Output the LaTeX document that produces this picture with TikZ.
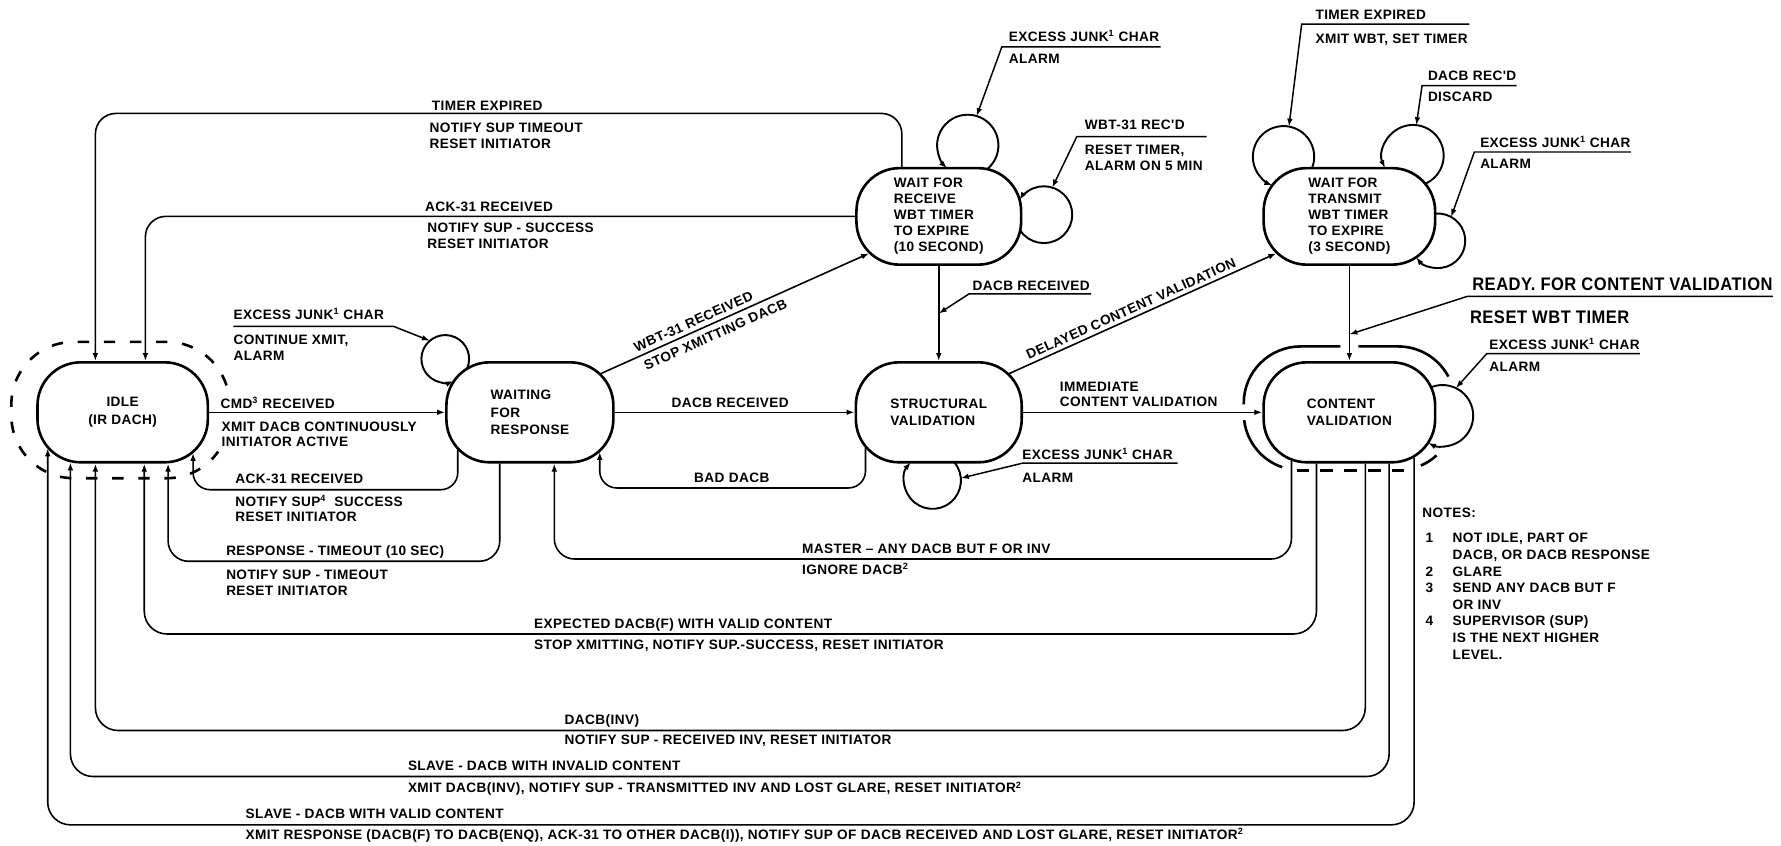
\documentclass[tikz,border=0pt]{standalone}
\usepackage{fontspec}
\usepackage{graphicx}
\setmainfont{Liberation Sans}
\newfontfamily\labelfamily{Liberation Sans}[LetterSpace=3]
\usetikzlibrary{arrows.meta,calc}
\newcommand\lblfont{\labelfamily\bfseries\fontsize{12}{13.5}\selectfont}
\newcommand\notefont{\labelfamily\bfseries\fontsize{12}{14.6}\selectfont}
\newcommand\bigfont{\labelfamily\bfseries\fontsize{16}{19}\selectfont}

\begin{document}
\begin{tikzpicture}[x=1pt, y=-1pt, font=\lblfont, >={Latex[length=7pt,width=5pt]},
  state/.style={draw, line width=2.3pt, rounded corners=38pt, fill=white,
    inner sep=0pt, minimum height=88pt, align=left},
  upperstate/.style={state, minimum height=85pt},
  conn/.style={line width=1.4pt, ->, rounded corners=18pt},
  lowconn/.style={conn, rounded corners=20pt},
  pointer/.style={line width=1.3pt, ->},
  selfloop/.style={line width=1.7pt, ->},
  ring/.style={line width=2.3pt},
  ev/.style={anchor=base west, inner sep=0pt},
  act/.style={anchor=north west, inner sep=0pt, align=left}]

\fill[white] (0,0) rectangle (1568,744);
\useasboundingbox (0,0) rectangle (1568,744);

% ---------- super-state outlines ----------
% dashed outline round IDLE, open on the right where CMD leaves
\draw[ring, dash pattern=on 10pt off 13pt] (199.4,339.3) arc[start angle=17.7, end angle=90, radius=55pt]
  -- (65,301) arc[start angle=90, end angle=180, radius=55pt]
  -- (10,366) arc[start angle=180, end angle=270, radius=55pt]
  -- (147,421) arc[start angle=270, end angle=325, radius=55pt];
% outline round CONTENT VALIDATION
\draw[ring] (1095,356) -- (1095,355) arc[start angle=180, end angle=90, radius=50pt] -- (1180,305);
\draw[ring] (1196,305) -- (1231,305) arc[start angle=90, end angle=28, radius=50pt];
\draw[ring] (1095.35,369.92) arc[start angle=186.8, end angle=251.2, radius=50pt];
\draw[ring, dash pattern=on 11pt off 10pt] (1141.5,414) -- (1240,414);
\draw[ring] (1250.9,409.9) arc[start angle=-66.6, end angle=-47.6, radius=50pt];

% ---------- states ----------
\node[state, minimum width=150pt, align=center] (idle) at (108,363) {IDLE\\[3pt](IR DACH)};
\node[state, minimum width=147pt] (wresp) at (466.5,363) {WAITING\\[1.5pt]FOR\\[1.5pt]RESPONSE};
\node[state, minimum width=146pt] (struct) at (826.5,363) {STRUCTURAL\\[1pt]VALIDATION};
\node[state, minimum width=151pt] (content) at (1188,363) {CONTENT\\[1pt]VALIDATION};
\node[upperstate, minimum width=145pt] (wrecv) at (826.5,190.5)
  {WAIT FOR\\[0.5pt]RECEIVE\\[0.5pt]WBT TIMER\\[0.5pt]TO EXPIRE\\[0.5pt](10 SECOND)};
\node[upperstate, minimum width=151pt] (wxmit) at (1188,190.5)
  {WAIT FOR\\[0.5pt]TRANSMIT\\[0.5pt]WBT TIMER\\[0.5pt]TO EXPIRE\\[0.5pt](3 SECOND)};

% ---------- self loops ----------
\coordinate (wl) at (392,316);
\draw[selfloop] ($(wl)+(-24.6:21pt)$) arc[start angle=-24.6, end angle=290.7, radius=21pt];
\coordinate (sl) at (821,423);
\draw[selfloop] ($(sl)+(39.8:25pt)$) arc[start angle=39.8, end angle=-219.8, radius=25pt];
\coordinate (rl1) at (852,128);
\draw[selfloop] ($(rl1)+(-50.55:27pt)$) arc[start angle=-50.55, end angle=227.8, radius=27pt];
\coordinate (rl2) at (919,189);
\draw[selfloop] ($(rl2)+(213.7:25pt)$) arc[start angle=213.7, end angle=508.85, radius=25pt];
\coordinate (xla) at (1130,138);
\draw[selfloop] ($(xla)+(-21.74:27pt)$) arc[start angle=-21.74, end angle=248.6, radius=27pt];
\coordinate (xlb) at (1244,137);
\draw[selfloop] ($(xlb)+(-65.9:27pt)$) arc[start angle=-65.9, end angle=204.04, radius=27pt];
\coordinate (xlc) at (1266,212);
\draw[selfloop] ($(xlc)+(95.98:24pt)$) arc[start angle=95.98, end angle=-143, radius=24pt];
\coordinate (cld) at (1270,366);
\draw[selfloop] ($(cld)+(111.9:27pt)$) arc[start angle=111.9, end angle=-118, radius=27pt];

% ---------- transitions ----------
% receive timer expired
\draw[conn] ([xshift=-32.5pt]wrecv.north) -- ++(0,-47) -| ([xshift=-24pt]idle.north);
\node[ev] (t1e) at (380,97) {TIMER EXPIRED};
\node[act] (t1a) at (378,108.5) {NOTIFY SUP TIMEOUT\\RESET INITIATOR};
% ack while waiting for wbt
\draw[conn] (wrecv.west) -| ([xshift=20pt]idle.north);
\node[ev] (t2e) at (374,186.5) {ACK-31 RECEIVED};
\node[act] (t2a) at (376,196.5) {NOTIFY SUP - SUCCESS\\RESET INITIATOR};
% wbt received
\draw[conn] ([xshift=62.4pt,yshift=-11.1pt]wresp.north) -- ([xshift=-61.4pt,yshift=11.1pt]wrecv.south)
  node[sloped, above, pos=0.36, inner sep=3.5pt] (t3e) {WBT-31 RECEIVED}
  node[sloped, below, pos=0.41, inner sep=5pt] (t3a) {STOP XMITTING DACB};
% dacb received after wbt
\draw[conn] (wrecv.south) -- (struct.north) coordinate[pos=0.5] (dacbpt);
\node[ev] (t4e) at (856,255.5) {DACB RECEIVED};
\draw[pointer] ([xshift=1pt,yshift=-3pt]t4e.south east) -- ([xshift=-3pt,yshift=-3pt]t4e.south west) -- (dacbpt);
% delayed content validation
\draw[conn] ([xshift=61.9pt,yshift=-11.1pt]struct.north) -- ([xshift=-64.4pt,yshift=11.1pt]wxmit.south)
  node[sloped, above, pos=0.47, inner sep=3pt] (t5e) {DELAYED CONTENT VALIDATION};
% immediate content validation
\draw[conn] (struct.east) -- (content.west);
\node[act, anchor=south west] (t6e) at (933,358.5) {IMMEDIATE\\CONTENT VALIDATION};
% dacb received while waiting
\draw[conn] (wresp.east) -- (struct.west);
\node[ev] (t7e) at (591,359) {DACB RECEIVED};
% bad dacb
\draw[conn, rounded corners=15pt] ([xshift=-64.5pt,yshift=14.05pt]struct.south) -- ++(0,35.5)
  -| ([xshift=61.5pt,yshift=10.29pt]wresp.south);
\node[ev] (t8e) at (611,424.5) {BAD DACB};
% command received
\draw[conn] (idle.east) -- (wresp.west);
\node[ev] (t9e) at (194,359.5) {CMD\textsuperscript{3} RECEIVED};
\node[act] (t9a) at (195,371) {XMIT DACB CONTINUOUSLY\\INITIATOR ACTIVE};
% ack while waiting for response
\draw[conn, rounded corners=15pt] ([xshift=-63.5pt,yshift=12.31pt]wresp.south) -- ++(0,35.3)
  -| ([xshift=62pt,yshift=9.38pt]idle.south);
\node[ev] (t10e) at (207,425.5) {ACK-31 RECEIVED};
\node[act] (t10a) at (207,436) {NOTIFY SUP\textsuperscript{4}\ \ SUCCESS\\RESET INITIATOR};
% response timeout
\draw[conn] ([xshift=-26.5pt]wresp.south) -- ++(0,86) -| ([xshift=40pt]idle.south);
\node[ev] (t11e) at (199,489) {RESPONSE - TIMEOUT (10 SEC)};
\node[act] (t11a) at (199,502) {NOTIFY SUP - TIMEOUT\\RESET INITIATOR};
% master ignores dacb
\draw[conn] ([xshift=-51pt,yshift=2.48pt]content.south) -- ++(0,86.5) -| ([xshift=21.5pt]wresp.south);
\node[ev] (t12e) at (706,487) {MASTER \textendash{} ANY DACB BUT F OR INV};
\node[act] (t12a) at (706,496) {IGNORE DACB\textsuperscript{2}};
% expected dacb(f)
\draw[lowconn] ([xshift=-29pt]content.south) -- ++(0,150) -| ([xshift=19pt]idle.south);
\node[ev] (t13e) at (470,553) {EXPECTED DACB(F) WITH VALID CONTENT};
\node[act] (t13a) at (470,563) {STOP XMITTING, NOTIFY SUP.-SUCCESS, RESET INITIATOR};
% dacb(inv)
\draw[lowconn] ([xshift=14pt]content.south) -- ++(0,235) -| ([xshift=-24pt]idle.south);
\node[ev] (t14e) at (497,638) {DACB(INV)};
\node[act] (t14a) at (497,647) {NOTIFY SUP - RECEIVED INV, RESET INITIATOR};
% slave, invalid content
\draw[lowconn] ([xshift=35pt]content.south) -- ++(0,275.5) -| ([xshift=-46pt,yshift=1.08pt]idle.south);
\node[ev] (t15e) at (359,678.5) {SLAVE - DACB WITH INVALID CONTENT};
\node[act] (t15a) at (359,688) {XMIT DACB(INV), NOTIFY SUP - TRANSMITTED INV AND LOST GLARE, RESET INITIATOR\textsuperscript{2}};
% slave, valid content
\draw[lowconn] ([xshift=57pt,yshift=5.38pt]content.south) -- ++(0,323.4) -| ([xshift=-66pt,yshift=13.44pt]idle.south);
\node[ev] (t16e) at (216,721) {SLAVE - DACB WITH VALID CONTENT};
\node[act] (t16a) at (216,729) {XMIT RESPONSE (DACB(F) TO DACB(ENQ), ACK-31 TO OTHER DACB(I)), NOTIFY SUP OF DACB RECEIVED AND LOST GLARE, RESET INITIATOR\textsuperscript{2}};
% transmit wait to content validation
\draw[conn] (wxmit.south) -- (content.north) coordinate[pos=0.72] (rdy);
\node[ev, font=\bigfont] (t17e) at (1296,255.5) {\scalebox{0.91}[1]{READY.\ FOR\ CONTENT\ VALIDATION}};
\draw[pointer] ([yshift=-5pt]t17e.south east) -- ([xshift=-4pt,yshift=-5pt]t17e.south west) -- (rdy);
\node[act, font=\bigfont] (t17a) at (1294,273) {\scalebox{0.91}[1]{RESET WBT TIMER}};

% ---------- self-loop labels ----------
\node[ev] (l1e) at (888,36.5) {EXCESS JUNK\textsuperscript{1} CHAR};
\node[act] (l1a) at (888,47.7) {ALARM};
\draw[pointer] ([xshift=1pt,yshift=-4.5pt]l1e.south east) -- ([xshift=-6pt,yshift=-4.5pt]l1e.south west) -- ($(rl1)+(73.2:27pt)$);

\node[ev] (l2e) at (955,114.3) {WBT-31 REC'D};
\node[act] (l2a) at (955,127.7) {RESET TIMER,\\[0.5pt]ALARM ON 5 MIN};
\draw[pointer] ([xshift=19pt,yshift=-5.7pt]l2e.south east) -- ([xshift=-7pt,yshift=-5.7pt]l2e.south west) -- ($(rl2)+(72.8:25pt)$);

\node[ev] (l3e) at (1158,17.3) {TIMER EXPIRED};
\node[act] (l3a) at (1158,29.4) {XMIT WBT, SET TIMER};
\draw[pointer] ([xshift=38pt,yshift=-3.7pt]l3e.south east) -- ([xshift=-12pt,yshift=-3.7pt]l3e.south west) -- ($(xla)+(79.8:27pt)$);

\node[ev] (l4e) at (1257,71) {DACB REC'D};
\node[act] (l4a) at (1257,80.7) {DISCARD};
\draw[pointer] ([yshift=-4pt]l4e.south east) -- ([xshift=-5pt,yshift=-4pt]l4e.south west) -- ($(xlb)+(83.7:27pt)$);

\node[ev] (l5e) at (1303,130) {EXCESS JUNK\textsuperscript{1} CHAR};
\node[act] (l5a) at (1303,139.7) {ALARM};
\draw[pointer] ([yshift=-3.5pt]l5e.south east) -- ([xshift=-5pt,yshift=-3.5pt]l5e.south west) -- ($(xlc)+(61.2:24pt)$);

\node[ev] (l6e) at (1311,308) {EXCESS JUNK\textsuperscript{1} CHAR};
\node[act] (l6a) at (1311,318.5) {ALARM};
\draw[pointer] ([yshift=-3pt]l6e.south east) -- ([xshift=-2pt,yshift=-3pt]l6e.south west) -- ($(cld)+(64.2:27pt)$);

\node[ev] (l7e) at (900,404.5) {EXCESS JUNK\textsuperscript{1} CHAR};
\node[act] (l7a) at (900,416.7) {ALARM};
\draw[pointer] ([xshift=4pt,yshift=-3pt]l7e.south east) -- ([yshift=-3pt]l7e.south west) -- ($(sl)+(4.6:25pt)$);

\node[ev] (l8e) at (205.5,281.6) {EXCESS JUNK\textsuperscript{1} CHAR};
\node[act] (l8a) at (205.5,295) {CONTINUE XMIT,\\ALARM};
\draw[pointer] ([yshift=-5.5pt]l8e.south west) -- ([xshift=8.5pt,yshift=-5.5pt]l8e.south east) -- ($(wl)+(130.2:21pt)$);

% ---------- notes ----------
\node[anchor=north west, inner sep=0pt, font=\notefont] (notes) at (1252,445) {%
  \begin{tabular}{@{\hspace{3pt}}l@{\hspace{17pt}}l@{}}
  \multicolumn{2}{@{}l}{NOTES:}\\[8pt]
  1 & NOT IDLE, PART OF\\
    & DACB, OR DACB RESPONSE\\
  2 & GLARE\\
  3 & SEND ANY DACB BUT F\\
    & OR INV\\
  4 & SUPERVISOR (SUP)\\
    & IS THE NEXT HIGHER\\
    & LEVEL.
  \end{tabular}};

\end{tikzpicture}
\end{document}
